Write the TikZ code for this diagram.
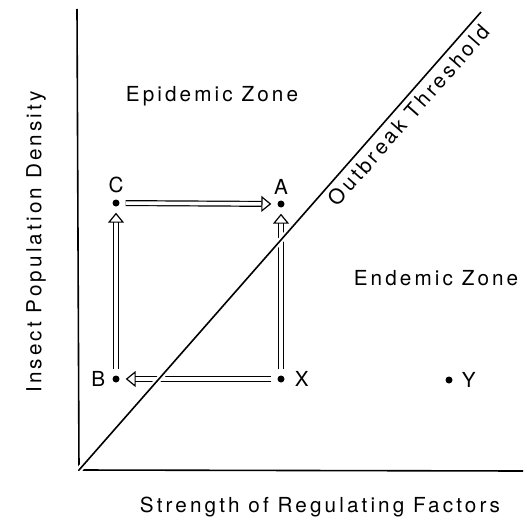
\documentclass[tikz,border=0pt]{standalone}
\usepackage{fontspec}
\setsansfont{TeX Gyre Heros}[LetterSpace=15]
\usetikzlibrary{arrows.meta,positioning}

\begin{document}
\begin{tikzpicture}[
    x=1pt, y=-1pt,
    font=\sffamily\fontsize{20.7}{24}\selectfont,
    axis/.style={line width=1.6pt},
    dot/.style={circle, fill=black, inner sep=0pt, minimum size=7pt},
    lbl/.style={inner sep=0pt},
    flow/.style={double, double distance=3.6pt, line width=1.2pt, -{Triangle[open, line width=1.2pt, length=10pt, width=16pt]}, shorten <=6pt, shorten >=6pt}
]
    \useasboundingbox (0,0) rectangle (523,524);

    % Axes
    \coordinate (origin) at (79,470);
    \coordinate (ytop) at (77,9);
    \coordinate (xend) at (523,471);
    \coordinate (ttop) at (481,12);

    \draw[axis] (ytop) -- (origin) -- (xend);

    % Zones
    \node[lbl] (epi) at (212,96) {Epidemic Zone};
    \node[lbl] (ende) at (436,278) {Endemic Zone};

    % Axis titles
    \node[lbl] (xlab) at (320,507) {Strength of Regulating Factors};
    \node[lbl, rotate=90] (ylab) at (36,242) {Insect Population Density};

    % States
    \node[dot] (C) at (116,203) {};
    \node[dot] (A) at (281,204) {};
    \node[dot] (B) at (116,379) {};
    \node[dot] (X) at (281,379) {};
    \node[dot] (Y) at (449,380) {};

    \node[lbl, above=6pt of C] (Clbl) {C};
    \node[lbl, above=6pt of A] (Albl) {A};
    \node[lbl, left=7pt of B] (Blbl) {B};
    \node[lbl, right=10pt of X] (Xlbl) {X};
    \node[lbl, right=9pt of Y] (Ylbl) {Y};

    % Transitions
    \draw[flow] (B) -- (C);
    \draw[flow] (C) -- (A);
    \draw[flow] (X) -- (A);
    \draw[flow] (X) -- (B);

    % Threshold (cuts the arrows it crosses)
    \draw[axis, preaction={draw=white, line width=6pt}] (origin) -- node[pos=0.795, sloped, below=5pt, inner sep=0pt] (thr) {Outbreak Threshold} (ttop);

\end{tikzpicture}
\end{document}
